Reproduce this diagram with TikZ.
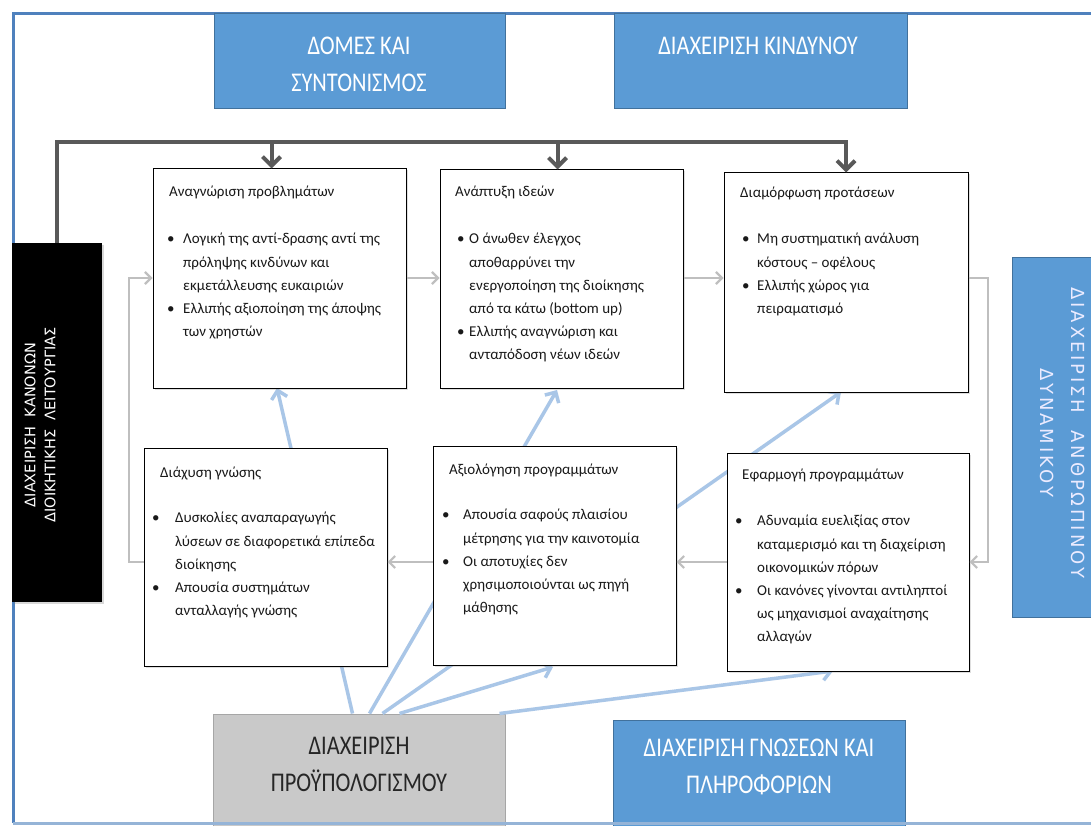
\documentclass[tikz,border=0pt]{standalone}
\usepackage{fontspec}
\setmainfont{Carlito}
\newfontfamily\narrowf[FakeStretch=0.83]{Carlito}
\newfontfamily\rotf[LetterSpace=0]{DejaVu Sans}
\newfontfamily\rotfb[LetterSpace=16]{DejaVu Sans}
\usetikzlibrary{arrows.meta,calc,shadows}
\definecolor{frameblue}{HTML}{4F81BD}
\definecolor{boxblue}{HTML}{5B9BD5}
\definecolor{boxblueedge}{HTML}{41719C}
\definecolor{lightarrow}{HTML}{A9C6E7}
\definecolor{cyclegray}{HTML}{BFBFBF}
\definecolor{darkline}{HTML}{595959}
\definecolor{budgetgray}{HTML}{C9C9C9}
\newcommand\bxttl[2]{\hspace*{#1pt}#2}
\newcommand\bxitm[3]{\hspace*{#1pt}\makebox[\dimexpr #2pt - #1pt\relax][l]{•}#3}
\newcommand\bxcnt[2]{\hspace*{#1pt}#2}
\tikzset{
  pbox/.style={draw=black, line width=1pt, fill=white, inner sep=0pt,
    drop shadow={shadow xshift=1.5pt, shadow yshift=-1.5pt, opacity=0.25}},
  ptext/.style={anchor=north west, inner sep=0pt, align=left,
    font=\fontsize{15}{23.2}\selectfont, text=black!90},
  bluebox/.style={draw=boxblueedge, line width=1pt, fill=boxblue, inner sep=0pt},
  bigtext/.style={inner sep=0pt, align=center, font=\narrowf\fontsize{27}{37}\selectfont},
  cyc/.style={draw=cyclegray, line width=2.2pt, -{Straight Barb[length=6pt,width=12pt]}},
  dk/.style={draw=darkline, line width=4pt},
  dkarr/.style={dk, -{Straight Barb[length=9pt,width=18pt]}},
  bl/.style={draw=lightarrow, line width=3.5pt, -{Straight Barb[length=8pt,width=16pt]}},
}
\begin{document}
\begin{tikzpicture}[x=1pt,y=-1pt]
\useasboundingbox (0,0) rectangle (1091,826);
\fill[white] (0,0) rectangle (1091,826);
% outer frame
\draw[frameblue, line width=3pt] (13,823) -- (13,14) -- (1100,14);

% budget and knowledge boxes
\node[draw=gray!70, line width=1pt, fill=budgetgray, minimum width=292, minimum height=112, inner sep=0pt] (G) at (359,770) {};
\node[bigtext, text=black!85] (Gt) at (359,764.5) {ΔΙΑΧΕΙΡΙΣΗ\\ΠΡΟΫΠΟΛΟΓΙΣΜΟΥ};
\node[bluebox, minimum width=292, minimum height=106] (KN) at (759,773) {};
\node[bigtext, text=white] (KNt) at (759,766.5) {ΔΙΑΧΕΙΡΙΣΗ ΓΝΩΣΕΩΝ ΚΑΙ\\ΠΛΗΡΟΦΟΡΙΩΝ};

% top boxes
\node[bluebox, minimum width=291, minimum height=95] (T1) at (359.5,61) {};
\node[bigtext, text=white] (T1t) at (359,64) {ΔΟΜΕΣ ΚΑΙ\\ΣΥΝΤΟΝΙΣΜΟΣ};
\node[bluebox, minimum width=293, minimum height=95] (T2) at (760.5,61) {};
\node[bigtext, text=white] (T2t) at (758,46) {ΔΙΑΧΕΙΡΙΣΗ ΚΙΝΔΥΝΟΥ};

\coordinate (yT) at (0,278);
\coordinate (yB) at (0,562);
\coordinate (yD) at (0,142);

% light blue arrows from budget box (behind boxes)
\draw[bl] ($(G.north west)+(140,0)$) -- (277,388);
\draw[bl] ($(G.north west)+(157,0)$) -- (557,390);
\draw[bl] ($(G.north west)+(170,0)$) -- (841,392);
\draw[bl] ($(G.north west)+(187,0)$) -- (553,667);
\draw[bl] ($(G.north west)+(287,0)$) -- (833,671);

% process boxes
\node[pbox, minimum width=253, minimum height=219] (A) at (279.5,278.5) {};
\node[pbox, minimum width=243, minimum height=218] (B) at (561.5,279) {};
\node[pbox, minimum width=244, minimum height=219] (C) at (846,282.5) {};
\node[pbox, minimum width=243, minimum height=218] (D) at (265.5,557) {};
\node[pbox, minimum width=243, minimum height=219] (E) at (554.5,555.5) {};
\node[pbox, minimum width=242, minimum height=218] (F) at (848,562) {};

\node[ptext] (At) at (167,186) {\bxttl{2}{Αναγνώριση προβλημάτων}\\[24pt]
\bxitm{0}{16}{Λογική της αντί-δρασης αντί της}\\
\bxcnt{16}{πρόληψης κινδύνων και}\\
\bxcnt{16}{εκμετάλλευσης ευκαιριών}\\
\bxitm{0}{16}{Ελλιπής αξιοποίηση της άποψης}\\
\bxcnt{16}{των χρηστών}};
\node[ptext] (Bt) at (455,186) {\bxttl{0}{Ανάπτυξη ιδεών}\\[24pt]
\bxitm{2}{14}{Ο άνωθεν έλεγχος}\\
\bxcnt{14}{αποθαρρύνει την}\\
\bxcnt{14}{ενεργοποίηση της διοίκησης}\\
\bxcnt{14}{από τα κάτω (bottom up)}\\
\bxitm{2}{14}{Ελλιπής αναγνώριση και}\\
\bxcnt{14}{ανταπόδοση νέων ιδεών}};
\node[ptext] (Ct) at (740,187) {\bxttl{0}{Διαμόρφωση προτάσεων}\\[23pt]
\bxitm{2}{17}{Μη συστηματική ανάλυση}\\
\bxcnt{17}{κόστους – οφέλους}\\
\bxitm{2}{17}{Ελλιπής χώρος για}\\
\bxcnt{17}{πειραματισμό}};
\node[ptext] (Dt) at (152,467) {\bxttl{8}{Διάχυση γνώσης}\\[22pt]
\bxitm{0}{23}{Δυσκολίες αναπαραγωγής}\\
\bxcnt{23}{λύσεων σε διαφορετικά επίπεδα}\\
\bxcnt{23}{διοίκησης}\\
\bxitm{0}{23}{Απουσία συστημάτων}\\
\bxcnt{23}{ανταλλαγής γνώσης}};
\node[ptext] (Et) at (442,464) {\bxttl{7}{Αξιολόγηση προγραμμάτων}\\[22pt]
\bxitm{0}{21}{Απουσία σαφούς πλαισίου}\\
\bxcnt{21}{μέτρησης για την καινοτομία}\\
\bxitm{0}{21}{Οι αποτυχίες δεν}\\
\bxcnt{21}{χρησιμοποιούνται ως πηγή}\\
\bxcnt{21}{μάθησης}};
\node[ptext] (Ft) at (735,469) {\bxttl{7}{Εφαρμογή προγραμμάτων}\\[23pt]
\bxitm{0}{22}{Αδυναμία ευελιξίας στον}\\
\bxcnt{22}{καταμερισμό και τη διαχείριση}\\
\bxcnt{22}{οικονομικών πόρων}\\
\bxitm{0}{22}{Οι κανόνες γίνονται αντιληπτοί}\\
\bxcnt{22}{ως μηχανισμοί αναχαίτησης}\\
\bxcnt{22}{αλλαγών}};

% grey cycle connectors
\draw[cyc] (A.east |- yT) -- (B.west |- yT);
\draw[cyc] (B.east |- yT) -- (C.west |- yT);
\draw[cyc] (C.east |- yT) -- (988,278) -- (988,562) -- (F.east |- yB);
\draw[cyc] (F.west |- yB) -- (E.east |- yB);
\draw[cyc] (E.west |- yB) -- (D.east |- yB);
\draw[cyc] (D.west |- yB) -- (129,562) -- (129,278) -- (A.west |- yT);

% black box (rules management)
\node[fill=black, minimum width=90, minimum height=359, inner sep=0pt,
  drop shadow={shadow xshift=1.5pt, shadow yshift=-1.5pt, opacity=0.3}] (K) at (57,422.5) {};
\node[rotate=90, inner sep=0pt, align=center, text=white,
  font=\rotf\fontsize{14.5}{20}\selectfont] (Kt) at (40,425) {ΔΙΑΧΕΙΡΙΣΗ\ \ ΚΑΝΟΝΩΝ\\ΔΙΟΙΚΗΤΙΚΗΣ\ \ ΛΕΙΤΟΥΡΓΙΑΣ};

% right box (human resources)
\node[bluebox, minimum width=90, minimum height=360] (R) at (1057,437) {};
\node[rotate=-90, inner sep=0pt, align=center, text=white!92!blue,
  font=\rotfb\fontsize{18}{31}\selectfont] (Rt) at (1062.5,433) {ΔΙΑΧΕΙΡΙΣΗ\ \ ΑΝΘΡΩΠΙΝΟΥ\\ΔΥΝΑΜΙΚΟΥ};

% dark bracket with arrows
\draw[dkarr] (K.north) |- (yD -| C.north) -- (C.north);
\draw[dkarr] ($(yD -| A.north)+(-8,0)$) -- ($(A.north)+(-8,0)$);
\draw[dkarr] ($(yD -| B.north)+(-4,0)$) -- ($(B.north)+(-4,0)$);

% bottom frame line over boxes
\draw[frameblue!60, line width=3pt] (13,823) -- (1100,823);
\end{tikzpicture}
\end{document}
